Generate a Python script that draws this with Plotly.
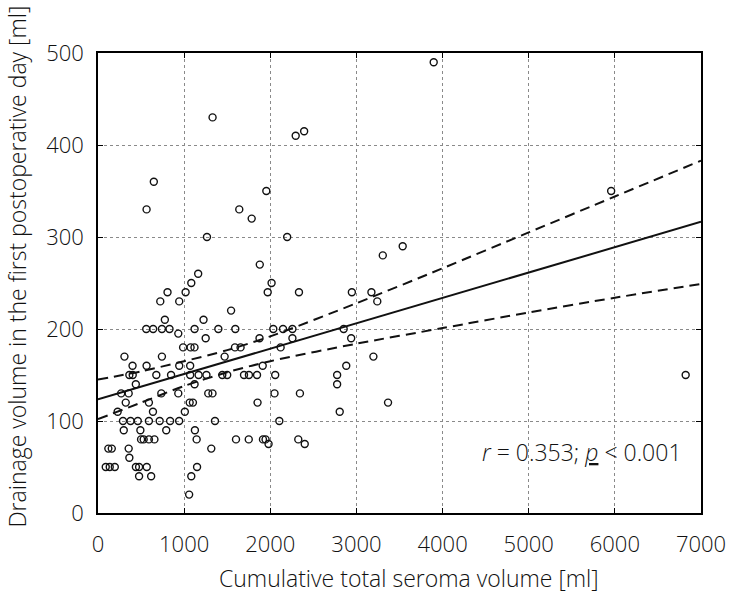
import plotly.graph_objects as go

# cumulative total seroma volume [ml], one row per drainage level
seroma_ml = [
    1058,
    477, 617, 1083,
    90, 136, 195, 440, 477, 566, 1150,
    364,
    120, 160, 356, 1315,
    1980, 2400,
    500, 530, 591, 655, 1145, 1602, 1750, 1915, 1945, 2325,
    299, 492, 792, 1125,
    290, 378, 462, 591, 716, 837, 942, 1358, 2105,
    228, 638, 1008, 2806,
    322, 591, 1064, 1102, 1852, 3367,
    269, 356, 735, 932, 1280, 1329, 2049, 2344,
    439, 1121, 2776,
    364, 403, 677, 848, 1070, 1168, 1259, 1443, 1500, 1695, 1752, 1846, 2057, 2776, 6822,
    401, 564, 943, 1070, 1912, 2882,
    307, 742, 1470, 3197,
    988, 1075, 1120, 1590, 1655, 2120,
    1250, 1875, 2257, 2939,
    932,
    560, 640, 742, 830, 1121, 1397, 1594, 2035, 2148, 2257, 2852,
    776, 1225,
    1545,
    723, 943, 3242,
    807, 1017, 1970, 2333, 2947, 3174,
    1083, 2015,
    1163, 1878, 3306, 3537,
    1265, 2196,
    1784, 564, 1640, 1954, 5957, 648,
    2295, 2393, 1330, 3897,
]

# drainage volume in the first postoperative day [ml]
drainage_ml = [
    20,
    40, 40, 40,
    50, 50, 50, 50, 50, 50, 50,
    60,
    70, 70, 70, 70,
    75, 75,
    80, 80, 80, 80, 80, 80, 80, 80, 80, 80,
    90, 90, 90, 90,
    100, 100, 100, 100, 100, 100, 100, 100, 100,
    110, 110, 110, 110,
    120, 120, 120, 120, 120, 120,
    130, 130, 130, 130, 130, 130, 130, 130,
    140, 140, 140,
    150, 150, 150, 150, 150, 150, 150, 150, 150, 150, 150, 150, 150, 150, 150,
    160, 160, 160, 160, 160, 160,
    170, 170, 170, 170,
    180, 180, 180, 180, 180, 180,
    190, 190, 190, 190,
    195,
    200, 200, 200, 200, 200, 200, 200, 200, 200, 200, 200,
    210, 210,
    220,
    230, 230, 230,
    240, 240, 240, 240, 240, 240,
    250, 250,
    260, 270, 280, 290,
    300, 300,
    320, 330, 330, 350, 350, 360,
    410, 415, 430, 490,
]

# regression line and 95% confidence band
fit_x = [0, 7000]
fit_y = [123.5, 316.5]
band_x = [0, 500, 1000, 1500, 2000, 3000, 4000, 5000, 6000, 7000]
band_upper = [145, 154, 165, 177, 192, 228, 266, 305, 344, 383]
band_lower = [102, 120, 138, 153, 165, 184, 201, 218, 234, 249]

FONTE = "Open Sans"
COR = "#111111"


def fonte(tam):
    return dict(family=FONTE, size=tam, color=COR, weight=300)


def eixo(fig):
    comum = dict(
        showline=True, linecolor="black", linewidth=1.5, mirror="ticks",
        ticks="inside", ticklen=5, tickwidth=1.3, tickcolor="black",
        showgrid=True, gridcolor="#8a8a8a", gridwidth=1.2, griddash="3px,3px",
        zeroline=False, tickfont=fonte(22), ticklabeloverflow="allow",
    )
    fig.update_xaxes(range=[0, 7000], dtick=1000, ticklabelstandoff=11, **comum)
    fig.update_yaxes(range=[0, 500], dtick=100, ticklabelstandoff=8, **comum)
    return fig


fig = go.Figure()
fig.add_trace(go.Scatter(
    x=seroma_ml, y=drainage_ml, mode="markers",
    marker=dict(symbol="circle-open", size=7, color="#111", line=dict(width=1.4)),
))
fig.add_trace(go.Scatter(x=fit_x, y=fit_y, mode="lines", line=dict(color="#111", width=2)))
for banda in (band_upper, band_lower):
    fig.add_trace(go.Scatter(
        x=band_x, y=banda, mode="lines",
        line=dict(color="#111", width=2, dash="10px,6px", shape="spline", smoothing=0.8),
    ))

fig.add_annotation(
    x=6800, y=66, xref="x", yref="y", xanchor="right", yanchor="middle", showarrow=False,
    text="<i>r</i> = 0.353; <u><i>p</i></u> < 0.001", font=fonte(23),
)
fig.add_annotation(
    x=0.515, y=-0.141, xref="paper", yref="paper", xanchor="center", yanchor="middle",
    showarrow=False, text="Cumulative total seroma volume [ml]", font=fonte(23),
)
fig.add_annotation(
    x=-0.135, y=-0.037, xref="paper", yref="paper", xanchor="center", yanchor="bottom",
    showarrow=False, textangle=-90, text="Drainage volume in the first postoperative day [ml]",
    font=fonte(23),
)

fig.update_layout(
    width=738, height=596,
    margin=dict(l=98, r=24, t=53, b=83),
    plot_bgcolor="white", paper_bgcolor="white",
    showlegend=False,
)
eixo(fig)
fig.write_html(
    "out.html",
    config={"displayModeBar": False},
    post_script="document.body.style.margin='0';document.body.style.overflow='hidden';",
)
